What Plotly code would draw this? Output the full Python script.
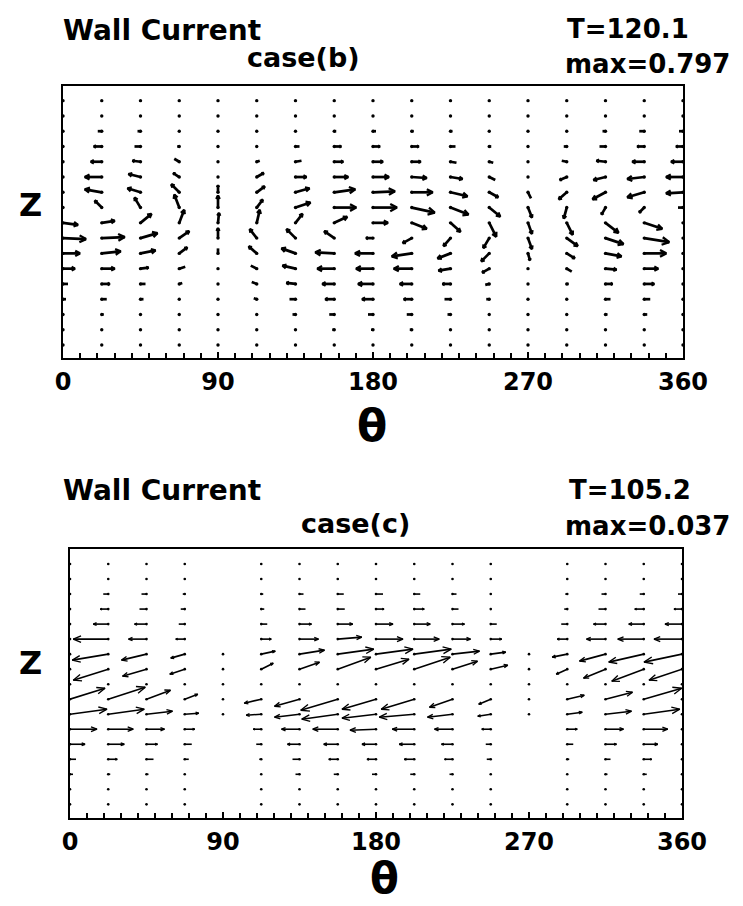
import math
import plotly.graph_objects as go

# ---------------- data ----------------
# grid columns (theta, degrees); the 360 column repeats the 0 column (periodic)
THETA = [0, 22.5, 45, 67.5, 90, 112.5, 135, 157.5, 180,
         202.5, 225, 247.5, 270, 292.5, 315, 337.5]
N_ROWS = 17  # z grid rows, listed below from top (row 16) to bottom (row 0)

TICK_VALS = [0, 90, 180, 270, 360]
TICK_TEXT = ["0", "90", "180", "270", "360"]

# case (b): wall current components (relative arrow units), rows top -> bottom
U_b = [
    [0, 0, 0, 0, 0, 0, 0, 0, 0, 0, 0, 0, 0, 0, 0, 0],
    [0, 0, 0, 0, 0, 0, 0, 0, 0, 0, 0, 0, 0, 0, 0, 0],
    [-4, -4, -3, 0, 0, 0, 0, 2, 3, 2, 2, 0, 0, 0, -3, -5],
    [-7, -8, -6, -2, 0, 0, 4, 7, 7, 7, 5, 2, 0, -3, -6, -7],
    [-12, -11, -8, -5, 0, 3, 6, 9, 10, 9, 6, 4, 0, -5, -9, -12],
    [-17, -17, -12, -6, 0, 7, 11, 14, 16, 15, 12, 6, 0, -7, -12, -17],
    [-17, -17, -13, -8, 0, 8, 14, 21, 22, 21, 17, 9, 3, -8, -13, -17],
    [-5, -7, -6, -5, 0, 6, 15, 22, 24, 23, 18, 11, 4, -3, -4, -5],
    [15, 13, 11, 5, 1, 3, 7, 13, 15, 15, 10, 7, 4, 6, 13, 18],
    [23, 23, 17, 10, 0, -7, -9, -10, -7, -9, -7, -6, 4, 11, 18, 25],
    [17, 19, 15, 8, 0, -8, -14, -19, -18, -20, -13, -8, 2, 8, 16, 22],
    [12, 13, 8, 6, 0, -6, -13, -17, -17, -18, -12, -7, 0, 5, 11, 14],
    [5, 8, 5, 3, 0, -5, -9, -12, -15, -12, -8, -4, 0, 2, 7, 10],
    [3, 5, 3, 1, 0, -3, -6, -9, -11, -8, -6, -3, 0, 0, 5, 6],
    [1, 2, 0, 0, 0, 0, -3, -5, -5, -5, -3, 0, 0, 0, 2, 3],
    [0, 0, 0, 0, 0, 0, 0, -2, -2, -2, 0, 0, 0, 0, 0, 0],
    [0, 0, 0, 0, 0, 0, 0, 0, 0, 0, 0, 0, 0, 0, 0, 0],
]
V_b = [
    [0, 0, 0, 0, 0, 0, 0, 0, 0, 0, 0, 0, 0, 0, 0, 0],
    [0, 0, 0, 0, 0, 0, 0, 0, 0, 0, 0, 0, 0, 0, 0, 0],
    [0, 0, 0, 0, 0, 0, 0, 0, 0, 0, 0, 0, 0, 0, 0, 0],
    [0, 0, 0, 0, 0, 0, 0, 0, 0, 0, 0, 0, 0, 0, 0, 0],
    [0, 0, 1, 3, 0, 1, 1, 0, 0, 0, -1, -1, 0, 1, 1, 0],
    [0, 0, 3, 4, 0, 4, 0, 0, 0, -1, -2, -3, 0, -3, -3, -2],
    [-1, 3, 4, 8, 7, 6, 4, 3, 1, 0, -4, -5, -6, -7, -7, -5],
    [0, 7, 10, 13, 12, 8, 5, 0, 0, -5, -7, -9, -10, -11, -7, -5],
    [-2, 2, 9, 13, 10, 13, 9, 6, 0, -6, -9, -14, -11, -12, -10, -6],
    [-1, 1, 5, 7, 10, 9, 9, 7, 0, -5, -8, -10, -11, -8, -6, -4],
    [0, 2, 3, 6, 5, 7, 5, 1, 0, -3, -5, -8, -7, -5, -3, 0],
    [0, 0, 1, 2, 1, 3, 3, 0, 0, 0, -2, -4, 0, -3, -1, 0],
    [0, 0, 0, 1, 0, 2, 1, 0, 0, 0, 0, -1, 0, 0, 0, 0],
    [0, 0, 0, 0, 0, 1, 0, 0, 0, 0, 0, 0, 0, 0, 0, 0],
    [0, 0, 0, 0, 0, 0, 0, 0, 0, 0, 0, 0, 0, 0, 0, 0],
    [0, 0, 0, 0, 0, 0, 0, 0, 0, 0, 0, 0, 0, 0, 0, 0],
    [0, 0, 0, 0, 0, 0, 0, 0, 0, 0, 0, 0, 0, 0, 0, 0],
]

N = None  # no vector plotted at this grid point
# case (c): wall current components (relative arrow units), rows top -> bottom
U_c = [
    [0, 0, 0, 0, N, 0, 0, 0, 0, 0, 0, 0, N, 0, 0, 0],
    [0, 0, 0, 0, N, 0, 0, 0, 0, 0, 0, 0, N, 0, 0, 0],
    [-4, -5, -5, -2, N, 2, 4, 6, 7, 6, 4, 0, N, -2, -4, -4],
    [-8, -8, -7, -4, N, 3, 6, 7, 8, 10, 6, 1, N, -3, -7, -9],
    [-17, -15, -12, -6, N, 6, 12, 15, 17, 16, 12, 6, N, -6, -12, -15],
    [-28, -35, -18, -9, N, 10, 19, 24, 27, 25, 18, 11, N, -10, -19, -26],
    [-38, -36, -25, -14, 0, 14, 25, 36, 37, 37, 27, 15, 0, -15, -26, -35],
    [-33, -35, -24, -15, 0, 12, 20, 33, 33, 36, 25, 17, 0, -11, -22, -32],
    [0, 0, 0, 0, 0, 0, 0, 0, 0, 0, 0, 0, 0, 0, 0, 0],
    [35, 37, 24, 13, 0, -17, -25, -37, -34, -33, -23, -12, 0, 17, 27, 38],
    [37, 36, 26, 14, 0, -15, -25, -36, -34, -35, -25, -13, 0, 15, 26, 36],
    [27, 25, 18, 10, N, -8, -18, -25, -26, -22, -18, -9, N, 10, 18, 24],
    [15, 16, 11, 7, N, -5, -12, -14, -14, -15, -11, -5, N, 6, 11, 14],
    [6, 9, 7, 4, N, -2, -7, -9, -9, -10, -8, -4, N, 2, 5, 8],
    [3, 2, 2, 1, N, 0, -4, -4, -4, -4, -3, 0, N, 0, 2, 3],
    [0, 0, 0, 0, N, 0, 0, 0, 0, 0, 0, 0, N, 0, 0, 0],
    [0, 0, 0, 0, N, 0, 0, 0, 0, 0, 0, 0, N, 0, 0, 0],
]
V_c = [
    [0, 0, 0, 0, N, 0, 0, 0, 0, 0, 0, 0, N, 0, 0, 0],
    [0, 0, 0, 0, N, 0, 0, 0, 0, 0, 0, 0, N, 0, 0, 0],
    [0, 0, 0, 0, N, 0, 0, 0, 0, 0, 0, 0, N, 0, 0, 0],
    [0, 0, 0, 0, N, 0, 0, 0, 0, 0, 0, 0, N, 0, 0, 0],
    [0, 0, 0, 0, N, 0, 0, 0, 0, 0, 0, 0, N, 0, 0, 0],
    [0, 0, 0, 0, N, 0, 0, 2, 0, 0, 0, 0, N, 0, 0, 0],
    [-8, -6, -6, -4, 0, 3, 4, 5, 5, 5, 3, 2, 0, -3, -7, -8],
    [-11, -11, -7, -5, 0, 6, 7, 12, 10, 12, 8, 4, 0, -5, -9, -12],
    [0, 0, 0, 0, 0, 0, 0, 0, 0, 0, 0, 0, 0, 0, 0, 0],
    [11, 12, 9, 5, 0, -4, -7, -11, -10, -10, -8, -5, 0, 4, 7, 11],
    [5, 5, 3, 1, 0, -1, -3, -5, -4, -3, -3, -2, 0, 2, 3, 5],
    [0, 0, 0, 0, N, 0, 0, 0, -1, 0, 0, 0, N, 0, 0, 0],
    [0, 0, 0, 0, N, 0, 0, 0, 0, 0, 0, 0, N, 0, 0, 0],
    [0, 0, 0, 0, N, 0, 0, 0, 0, 0, 0, 0, N, 0, 0, 0],
    [0, 0, 0, 0, N, 0, 0, 0, 0, 0, 0, 0, N, 0, 0, 0],
    [0, 0, 0, 0, N, 0, 0, 0, 0, 0, 0, 0, N, 0, 0, 0],
    [0, 0, 0, 0, N, 0, 0, 0, 0, 0, 0, 0, N, 0, 0, 0],
]

TITLE = "Wall Current"
CASE_B, T_B, MAX_B = "case(b)", "T=120.1", "max=0.797"
CASE_C, T_C, MAX_C = "case(c)", "T=105.2", "max=0.037"

# ---------------- layout geometry (window pixels) ----------------
W, H = 743, 906
BODY = 8  # default page margin around the plot div
PANELS = {
    "b": dict(x0=63, x1=683, y0=86, y1=358, yr=(-0.85, 16.96)),
    "c": dict(x0=70, x1=682, y0=549, y1=818, yr=(-0.91, 17.0)),
}
FONT = "DejaVu Sans"


def px(x):
    return (x - BODY) / W


def py(y):
    return 1 - (y - BODY) / H


def quiver(U, V, geom, head_frac, head_ang, min_head):
    pxdeg = (geom["x1"] - geom["x0"]) / 360.0
    pxrow = (geom["y1"] - geom["y0"]) / (geom["yr"][1] - geom["yr"][0])
    dots_x, dots_y, sx, sy, hx, hy = [], [], [], [], [], []
    ncol = len(THETA)
    for r in range(N_ROWS):
        j = N_ROWS - 1 - r
        for c in range(ncol + 1):
            cc = c % ncol
            u, v = U[r][cc], V[r][cc]
            if u is None:
                continue
            t = THETA[cc] if c < ncol else 360
            dots_x.append(t)
            dots_y.append(j)
            L = math.hypot(u, v)
            if L < 1.5:
                continue
            x1 = t + u / pxdeg
            y1 = j + v / pxrow
            sx += [t, x1, None]
            sy += [j, y1, None]
            if L >= min_head:
                h = head_frac * L
                a0 = math.atan2(v, u)
                pts = []
                for s in (1, -1):
                    a = a0 + math.pi + s * head_ang
                    pts.append((x1 + h * math.cos(a) / pxdeg,
                                y1 + h * math.sin(a) / pxrow))
                hx += [pts[0][0], x1, pts[1][0], None]
                hy += [pts[0][1], y1, pts[1][1], None]
    return dots_x, dots_y, sx, sy, hx, hy


fig = go.Figure()

styles = {
    "b": dict(U=U_b, V=V_b, lw=2.7, hf=0.32, ha=math.radians(28), mh=7, dot=3.4,
              xa="x", ya="y"),
    "c": dict(U=U_c, V=V_c, lw=1.6, hf=0.24, ha=math.radians(22), mh=8, dot=2.6,
              xa="x2", ya="y2"),
}

for key, st in styles.items():
    dx, dy, sx, sy, hx, hy = quiver(st["U"], st["V"], PANELS[key],
                                   st["hf"], st["ha"], st["mh"])
    fig.add_trace(go.Scatter(x=dx, y=dy, mode="markers", xaxis=st["xa"], yaxis=st["ya"],
                             marker=dict(size=st["dot"], color="black"),
                             hoverinfo="skip", showlegend=False))
    fig.add_trace(go.Scatter(x=sx, y=sy, mode="lines", xaxis=st["xa"], yaxis=st["ya"],
                             line=dict(color="black", width=st["lw"]),
                             hoverinfo="skip", showlegend=False))
    fig.add_trace(go.Scatter(x=hx, y=hy, mode="lines", xaxis=st["xa"], yaxis=st["ya"],
                             line=dict(color="black", width=st["lw"] * 0.85),
                             hoverinfo="skip", showlegend=False))


def xaxis_cfg(g):
    return dict(domain=[px(g["x0"]), px(g["x1"])], range=[0, 360],
                automargin=False,
                showline=True, mirror=True, linecolor="black", linewidth=2,
                showgrid=False, zeroline=False,
                tickmode="array", tickvals=TICK_VALS, ticktext=TICK_TEXT,
                ticks="inside", ticklen=6, tickwidth=1.5, tickcolor="black",
                minor=dict(dtick=10, tick0=0, ticks="inside", ticklen=5,
                           tickwidth=1.5, tickcolor="black"),
                tickfont=dict(family=FONT, size=24, color="black", weight="bold"),
                ticklabelstandoff=1)


def yaxis_cfg(g):
    return dict(domain=[py(g["y1"]), py(g["y0"])], range=list(g["yr"]),
                automargin=False,
                showline=True, mirror=True, linecolor="black", linewidth=2,
                showgrid=False, zeroline=False, showticklabels=False, ticks="")


gb, gc = PANELS["b"], PANELS["c"]
fig.update_layout(
    width=W, height=H, autosize=False,
    margin=dict(l=0, r=0, t=0, b=0, pad=0, autoexpand=False),
    paper_bgcolor="white", plot_bgcolor="white", showlegend=False,
    xaxis=dict(**xaxis_cfg(gb), anchor="y"),
    yaxis=dict(**yaxis_cfg(gb), anchor="x"),
    xaxis2=dict(**xaxis_cfg(gc), anchor="y2"),
    yaxis2=dict(**yaxis_cfg(gc), anchor="x2"),
)


def label(text, x, y, size, xanchor="left"):
    fig.add_annotation(text="<b>%s</b>" % text, x=px(x), y=py(y), xref="paper",
                       yref="paper", xanchor=xanchor, yanchor="middle",
                       showarrow=False, borderpad=0,
                       font=dict(family=FONT, size=size, color="black"))


# panel (b) texts
label(TITLE, 62, 30, 28)
label(CASE_B, 246, 58, 27)
label(T_B, 566, 29, 26)
label(MAX_B, 564, 64, 26)
label("Z", 30, 205, 32, "center")
label("θ", 372, 425, 44, "center")
# panel (c) texts
label(TITLE, 62, 490, 28)
label(CASE_C, 300, 523, 27)
label(T_C, 568, 490, 26)
label(MAX_C, 564, 526, 26)
label("Z", 30, 663, 32, "center")
label("θ", 385, 878, 42, "center")

fig.write_html("out.html")
